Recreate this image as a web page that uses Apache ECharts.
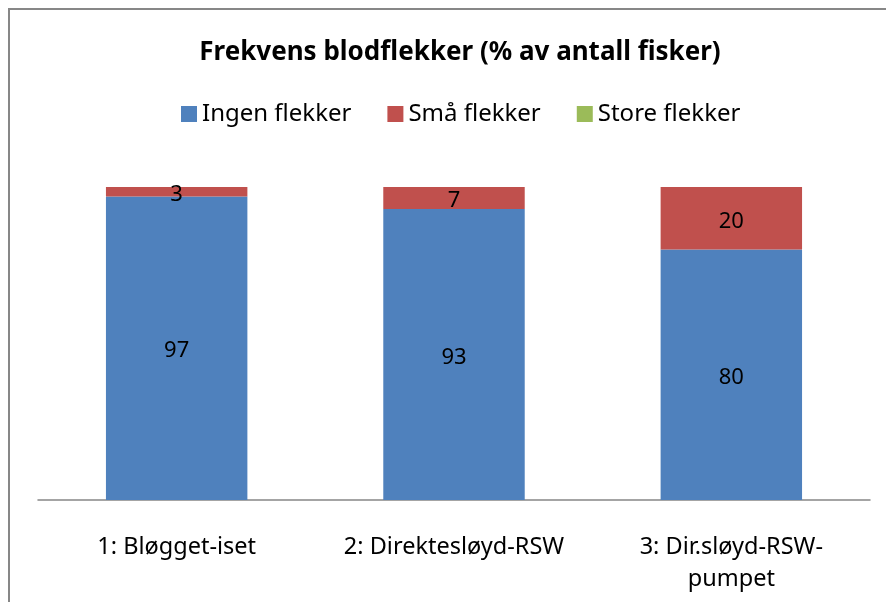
<!DOCTYPE html>
<html>
<head>
<meta charset="utf-8">
<script src="https://cdn.jsdelivr.net/npm/echarts@6/dist/echarts.min.js"></script>
<style>
  html, body { margin: 0; padding: 0; background: #fff; }
  #chart { width: 886px; height: 602px; }
</style>
</head>
<body>
<div id="chart"></div>
<script>
// kategorier og verdier (% av antall fisker)
var categories = ['1: Bløgget-iset', '2: Direktesløyd-RSW', '3: Dir.sløyd-RSW-\npumpet'];
var ingenFlekker = [97, 93, 80];
var smaFlekker = [3, 7, 20];
var storeFlekker = [0, 0, 0];

var fontFamily = '"Noto Sans", "Open Sans", sans-serif';

function makeSeries(name, data, color) {
    return {
        name: name,
        type: 'bar',
        stack: 'total',
        barCategoryGap: '49%',
        itemStyle: {color: color},
        label: {
            show: true,
            position: 'inside',
            offset: [0, 3],
            color: '#000',
            fontFamily: fontFamily,
            fontSize: 22,
            formatter: function (p) {
                return p.value === 0 ? '' : p.value;
            }
        },
        data: data
    };
}

var dom = document.getElementById('chart');
var myChart = echarts.init(dom, null, {renderer: 'canvas'});
var option = {
    animation: false,
    title: {
        text: 'Frekvens blodflekker (% av antall fisker)',
        left: 455,
        textAlign: 'center',
        top: 35,
        textStyle: {
            fontFamily: fontFamily,
            fontSize: 26,
            fontWeight: 'bold',
            color: '#000'
        }
    },
    legend: {
        top: 97,
        left: 176,
        itemWidth: 16,
        itemHeight: 16,
        itemGap: 36,
        icon: 'rect',
        textStyle: {
            fontFamily: fontFamily,
            fontSize: 24,
            color: '#000'
        },
        data: ['Ingen flekker', 'Små flekker', 'Store flekker']
    },
    graphic: [{
        type: 'rect',
        shape: {x: 9, y: 9, width: 1000, height: 1000},
        style: {fill: 'none', stroke: '#878787', lineWidth: 2}
    }],
    grid: {
        left: 38,
        right: 16,
        top: 187,
        bottom: 102
    },
    xAxis: {
        type: 'category',
        data: categories,
        axisLine: {lineStyle: {color: '#868686', width: 1.5}},
        axisTick: {show: false},
        axisLabel: {
            interval: 0,
            color: '#000',
            fontFamily: fontFamily,
            fontSize: 23.5,
            margin: 31,
            lineHeight: 32
        }
    },
    yAxis: {
        type: 'value',
        min: 0,
        max: 100,
        show: false
    },
    series: [
        makeSeries('Ingen flekker', ingenFlekker, '#4F81BD'),
        makeSeries('Små flekker', smaFlekker, '#C0504D'),
        makeSeries('Store flekker', storeFlekker, '#9BBB59')
    ]
};
myChart.setOption(option);
</script>
</body>
</html>
